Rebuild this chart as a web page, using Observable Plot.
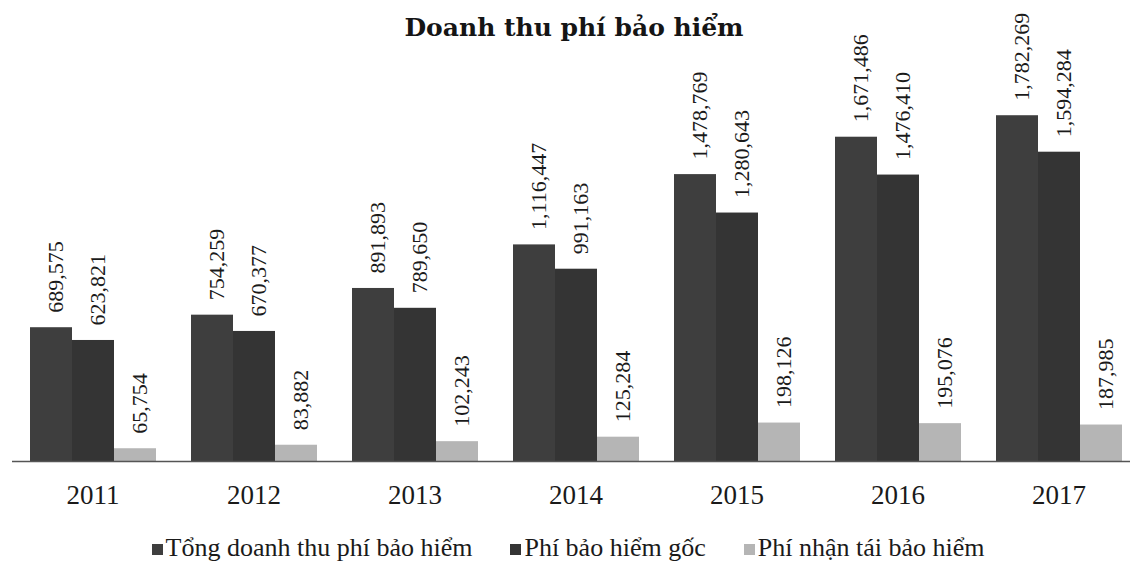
<!DOCTYPE html>
<html>
<head>
<meta charset="utf-8">
<script src="https://cdn.jsdelivr.net/npm/d3@7"></script>
<script src="https://cdn.jsdelivr.net/npm/@observablehq/plot@0.6"></script>
<style>
  html, body { margin: 0; padding: 0; background: #fff; }
  body { width: 1130px; height: 569px; overflow: hidden; font-family: "Liberation Serif", "Times New Roman", serif; }
  #wrap { position: relative; width: 1130px; height: 512px; }
  #title { position: absolute; top: 15px; left: 0; width: 1130px; box-sizing: border-box; padding-left: 18px;
           text-align: center; font-family: "DejaVu Serif", serif; font-weight: bold; font-size: 25px; line-height: 25px; color: #151515; }
  #legend { margin-top: 21px; height: 30px; display: flex; justify-content: center; gap: 38px; padding-left: 6px;
            font-size: 26px; line-height: 30px; color: #1a1a1a; }
  .item { display: flex; align-items: center; gap: 3px; white-space: nowrap; }
  .sw { width: 11px; height: 11px; display: inline-block; margin-top: 3px; }
</style>
</head>
<body>
<div id="wrap"><div id="chart"></div><div id="title">Doanh thu phí bảo hiểm</div></div>
<div id="legend"></div>
<script>
const years = ["2011", "2012", "2013", "2014", "2015", "2016", "2017"];
const seriesNames = ["Tổng doanh thu phí bảo hiểm", "Phí bảo hiểm gốc", "Phí nhận tái bảo hiểm"];
const tongDoanhThu = [689575, 754259, 891893, 1116447, 1478769, 1671486, 1782269];
const phiGoc = [623821, 670377, 789650, 991163, 1280643, 1476410, 1594284];
const phiTaiBaoHiem = [65754, 83882, 102243, 125284, 198126, 195076, 187985];
const colors = ["#3e3e3e", "#343434", "#b5b5b5"];

const seriesValues = [tongDoanhThu, phiGoc, phiTaiBaoHiem];
const data = years.flatMap((yr, i) => seriesNames.map((s, k) => ({year: yr, series: s, value: seriesValues[k][i]})));
const fmt = d3.format(",");

const chart = Plot.plot({
  width: 1130,
  height: 512,
  marginLeft: 27,
  marginRight: 5,
  marginTop: 40,
  marginBottom: 51,
  fx: {domain: years, paddingInner: 0.21, paddingOuter: 0, axis: "bottom", label: null, tickSize: 0, tickPadding: 23},
  x: {domain: seriesNames, axis: null, padding: 0},
  y: {domain: [0, 2170000], axis: null},
  color: {domain: seriesNames, range: colors},
  style: {fontFamily: "'Liberation Serif', 'Times New Roman', serif", fontSize: "27px", color: "#1a1a1a", background: "transparent", overflow: "visible"},
  marks: [
    Plot.barY(data, {fx: "year", x: "series", y: "value", fill: "series"}),
    Plot.ruleY([0], {stroke: "#555", strokeWidth: 1.5, insetLeft: -17, insetRight: -17}),
    Plot.text(data, {fx: "year", x: "series", y: "value", text: d => fmt(d.value), rotate: -90, textAnchor: "start",
                     dy: -15, dx: 4, fontSize: 22, fill: "#1a1a1a"})
  ]
});
document.getElementById("chart").append(chart);

const legend = document.getElementById("legend");
seriesNames.forEach((s, k) => {
  const item = document.createElement("div");
  item.className = "item";
  const sw = document.createElement("span");
  sw.className = "sw";
  sw.style.background = colors[k];
  const t = document.createElement("span");
  t.textContent = s;
  item.append(sw, t);
  legend.append(item);
});
</script>
</body>
</html>
